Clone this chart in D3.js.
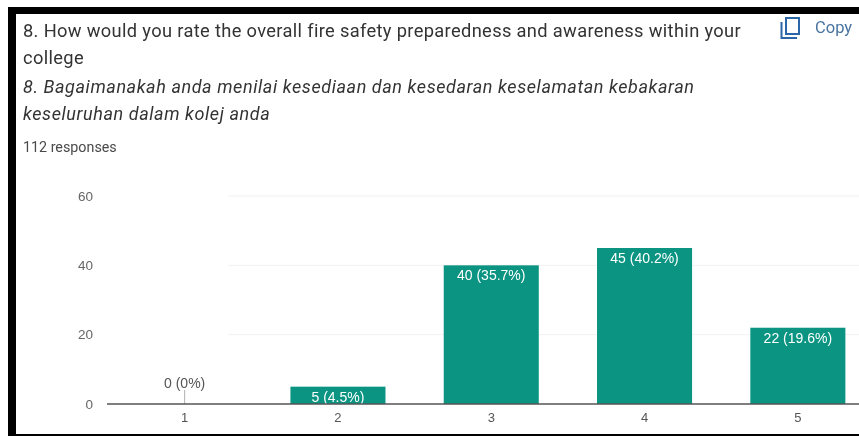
<!DOCTYPE html>
<html><head><meta charset="utf-8">
<script src="https://cdn.jsdelivr.net/npm/d3@7/dist/d3.min.js"></script>
<style>html,body{margin:0;padding:0;background:#fff}svg{display:block;filter:blur(0.45px)}text{font-family:Roboto,sans-serif}.chart text{font-family:"Liberation Sans",Arial,sans-serif}</style>
</head><body><svg id="c" width="859" height="436"></svg>
<script>
const categories = ["1","2","3","4","5"];
const values = [0,5,40,45,22];
const valueLabels = ["0 (0%)","5 (4.5%)","40 (35.7%)","45 (40.2%)","22 (19.6%)"];
const yTicks = [0,20,40,60];
const titleLines = ["8. How would you rate the overall fire safety preparedness and awareness within your","college"];
const italicLines = ["8. Bagaimanakah anda menilai kesediaan dan kesedaran keselamatan kebakaran","keseluruhan dalam kolej anda"];
const responses = "112 responses";

const svg = d3.select("#c");
const x = d3.scaleBand().domain(categories).range([108,874.5]).paddingInner(0.38).paddingOuter(0.19);
const y = d3.scaleLinear().domain([0,60]).range([404,196]);

// frame
svg.append("rect").attr("x",8).attr("y",7).attr("width",860).attr("height",7).attr("fill","#000");
svg.append("rect").attr("x",8).attr("y",7).attr("width",8).attr("height",429).attr("fill","#000");
svg.append("rect").attr("x",8).attr("y",434).attr("width",860).attr("height",2).attr("fill","#000");

// headings
const tc="#333";
titleLines.forEach((t,i)=>svg.append("text").attr("x",23).attr("y",[36.5,64][i]).attr("font-size",18.3).attr("letter-spacing",0.34).attr("fill",tc).text(t));
italicLines.forEach((t,i)=>svg.append("text").attr("x",23).attr("y",[92.5,120][i]).attr("font-size",18).attr("letter-spacing",0.58).attr("font-style","italic").attr("fill",tc).text(t));
svg.append("text").attr("x",23).attr("y",152).attr("font-size",14.3).attr("fill","#4a4a4a").text(responses);

// copy
const icon=svg.append("g").attr("fill","none").attr("stroke","#2a66a8");
icon.append("rect").attr("x",786).attr("y",18).attr("width",13).attr("height",16).attr("stroke-width",2);
icon.append("path").attr("d","M781.5 22V38H797").attr("stroke-width",2);
svg.append("text").attr("x",815).attr("y",33).attr("font-size",16.5).attr("fill","#4a74a0").text("Copy");

const chart=svg.append("g").attr("class","chart");
// grid
chart.append("g").selectAll("line").data(yTicks.slice(1)).join("line")
 .attr("x1",228).attr("x2",859).attr("y1",d=>y(d)).attr("y2",d=>y(d)).attr("stroke","#f1f1f1").attr("stroke-width",1);

// bars
chart.append("g").selectAll("rect").data(values).join("rect")
 .attr("x",(d,i)=>x(categories[i])).attr("width",x.bandwidth())
 .attr("y",d=>y(d)).attr("height",d=>y(0)-y(d)).attr("fill","#0a9481");

// leader
chart.append("line").attr("x1",x("1")+x.bandwidth()/2).attr("x2",x("1")+x.bandwidth()/2).attr("y1",390).attr("y2",404).attr("stroke","#b0b0b0");

// value labels
chart.append("g").selectAll("text").data(values).join("text")
 .attr("x",(d,i)=>x(categories[i])+x.bandwidth()/2)
 .attr("y",d=>d===0?y(0)-16:y(d)+15)
 .attr("text-anchor","middle").attr("font-size",14)
 .attr("fill",d=>d===0?"#555":"#fff").text((d,i)=>valueLabels[i]);

// axes
const ax=chart.append("g").attr("transform",`translate(0,${y(0)})`).call(d3.axisBottom(x).tickSize(0).tickPadding(9));
ax.select(".domain").attr("stroke","#555").attr("stroke-width",1.4).attr("d","M107,0H859");
ax.selectAll("text").attr("font-size",13).attr("fill","#555");
const ay=chart.append("g").attr("transform","translate(93,0)").call(d3.axisLeft(y).tickValues(yTicks).tickSize(0).tickPadding(0));
ay.select(".domain").remove();
ay.selectAll("text").attr("font-size",13.5).attr("fill","#666");
</script></body></html>
